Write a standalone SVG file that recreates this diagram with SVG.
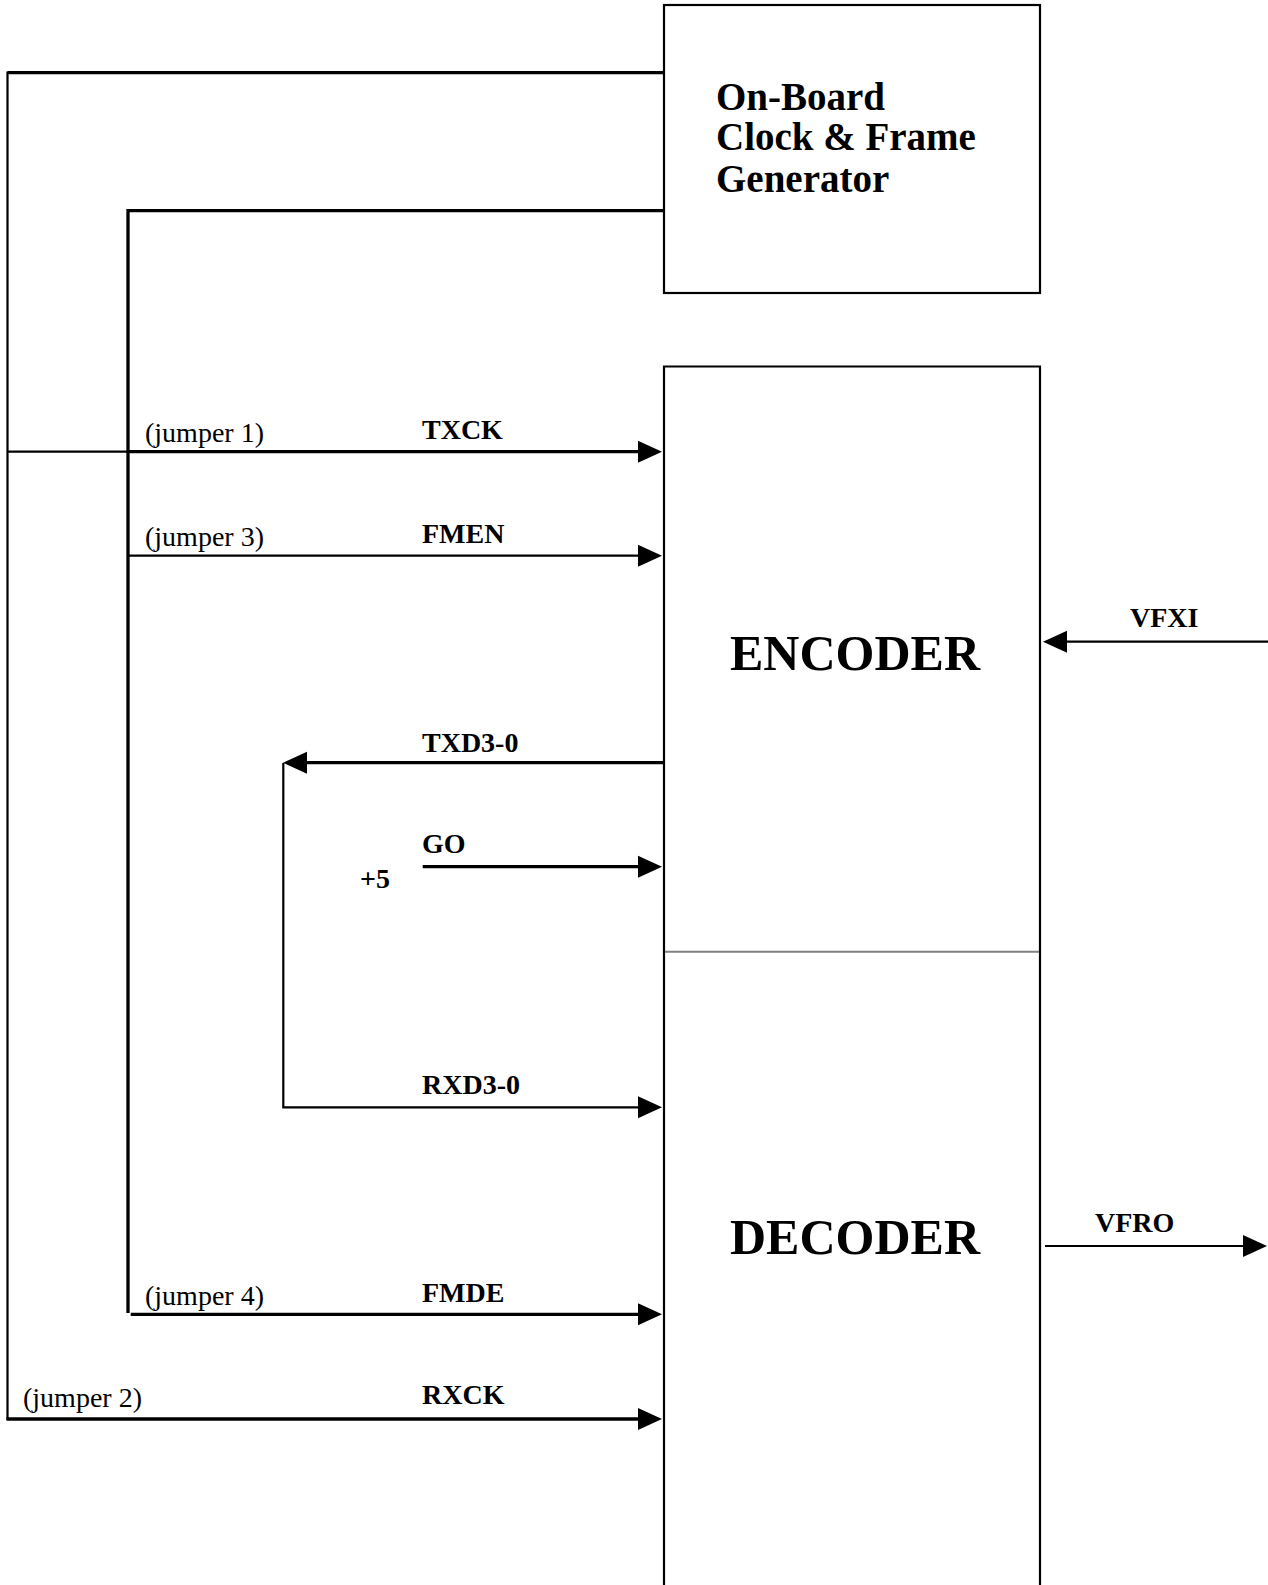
<svg xmlns="http://www.w3.org/2000/svg" width="1268" height="1585" viewBox="0 0 1268 1585">
<style>
.box{fill:#fff;stroke:#000;stroke-width:2.2}
.thick{stroke:#000;stroke-width:3.3;fill:none}
.thin{stroke:#000;stroke-width:2.2;fill:none}
.head{fill:#000}
.sig{font-family:"Liberation Serif","Times New Roman",serif;font-weight:bold;font-size:28px;fill:#000}
.jmp{font-family:"Liberation Serif","Times New Roman",serif;font-size:28px;fill:#000}
.big{font-family:"Liberation Serif","Times New Roman",serif;font-weight:bold;font-size:50px;fill:#000}
.gen{font-family:"Liberation Serif","Times New Roman",serif;font-weight:bold;font-size:39px;fill:#000}
</style>
<rect width="1268" height="1585" fill="#fff"/>
<g id="clockgen">
<rect class="box" x="664" y="5" width="376" height="288"/>
<text class="gen" x="716" y="110">On-Board</text>
<text class="gen" x="716" y="150">Clock &amp; Frame</text>
<text class="gen" x="716" y="192">Generator</text>
</g>
<g id="codec">
<path class="box" d="M664,1590 V366.5 H1040 V1590"/>
<line x1="665" y1="951.7" x2="1039" y2="951.7" stroke="#808080" stroke-width="2"/>
</g>
<g id="encoder"><text class="big" x="730" y="670">ENCODER</text></g>
<g id="decoder"><text class="big" x="730" y="1254">DECODER</text></g>
<g id="connectors">
<path class="thick" d="M7.5,72.7 H664"/>
<path class="thin" d="M7.5,71.5 V1420"/>
<path class="thick" d="M128,1313 V209 M128,210.7 H663"/>
<path class="thin" d="M7.5,451.7 H128"/>
<path class="thick" d="M128,451.7 H640"/>
<polygon class="head" points="638,440.7 662,451.7 638,462.7"/>
<path class="thin" d="M128,555.7 H640"/>
<polygon class="head" points="638,544.7 662,555.7 638,566.7"/>
<path class="thin" d="M1064,641.7 H1268"/>
<polygon class="head" points="1067,630.7 1043,641.7 1067,652.7"/>
<path class="thick" d="M664,762.7 H305"/>
<polygon class="head" points="307,751.7 283,762.7 307,773.7"/>
<path class="thin" d="M283.3,763 V1107.3 H640"/>
<polygon class="head" points="638,1096.3 662,1107.3 638,1118.3"/>
<path class="thick" d="M422.7,866.7 H640"/>
<polygon class="head" points="638,855.7 662,866.7 638,877.7"/>
<path class="thin" d="M1045,1246 H1245"/>
<polygon class="head" points="1243,1235 1267,1246 1243,1257"/>
<path class="thick" d="M130.7,1314.3 H640"/>
<polygon class="head" points="638,1303.3 662,1314.3 638,1325.3"/>
<path class="thick" d="M6.5,1419 H640"/>
<polygon class="head" points="638,1408 662,1419 638,1430"/>
</g>
<g id="labels">
<text class="jmp" x="145" y="442">(jumper 1)</text>
<text class="jmp" x="145" y="546">(jumper 3)</text>
<text class="jmp" x="145" y="1305">(jumper 4)</text>
<text class="jmp" x="23" y="1407">(jumper 2)</text>
<text class="sig" x="422" y="439">TXCK</text>
<text class="sig" x="422" y="543">FMEN</text>
<text class="sig" x="422" y="752">TXD3-0</text>
<text class="sig" x="422" y="853">GO</text>
<text class="sig" x="360" y="888">+5</text>
<text class="sig" x="422" y="1094">RXD3-0</text>
<text class="sig" x="422" y="1302">FMDE</text>
<text class="sig" x="422" y="1404">RXCK</text>
<text class="sig" x="1130" y="627">VFXI</text>
<text class="sig" x="1095" y="1232">VFRO</text>
</g>
</svg>
